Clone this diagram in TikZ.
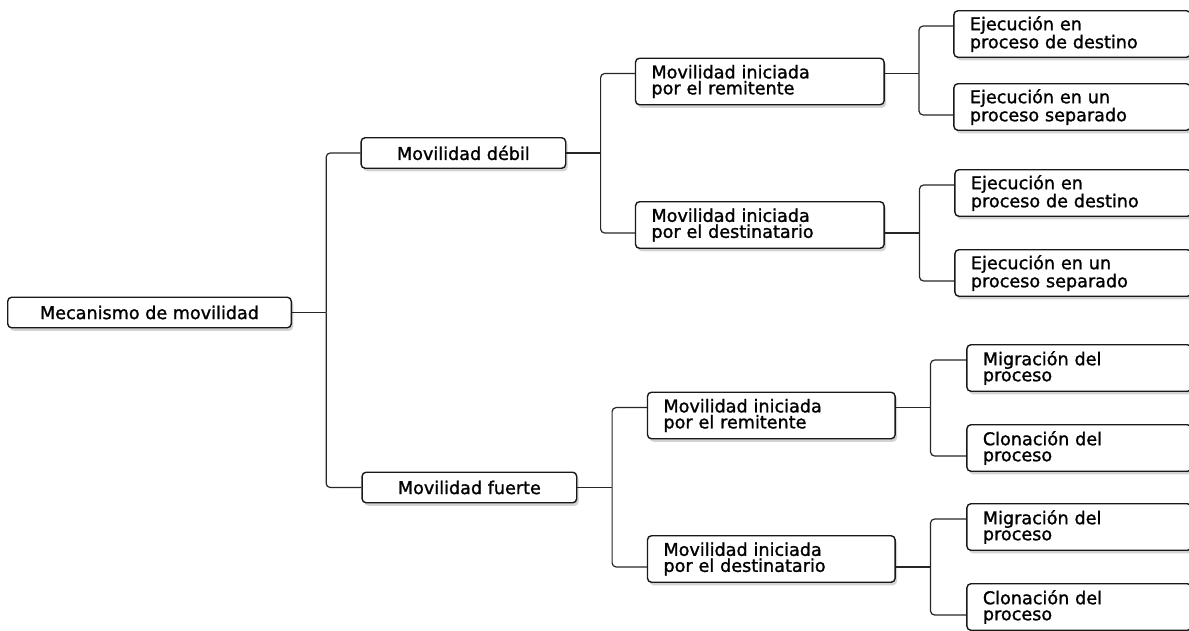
\documentclass[tikz,border=0pt]{standalone}
\usepackage{fontspec}
\setmainfont{DejaVu Sans}
\newfontfamily\mmfam{DejaVu Sans}[BoldFont={DejaVu Sans}, BoldFeatures={FakeBold=1.3}]
\usepackage{tikz}
\usetikzlibrary{positioning,shadows}
\newcommand{\mmfont}{\mmfam\bfseries\fontsize{17.6pt}{16pt}\selectfont}
\tikzset{
  mbox/.style={rectangle, rounded corners=4pt, draw=black!90, line width=1.4pt, fill=white,
               drop shadow={shadow xshift=2pt, shadow yshift=-3pt, opacity=0.35},
               text=black, minimum height=30.5pt, inner xsep=16pt, font=\mmfont, align=center},
  mboxw/.style={mbox, text width=#1, minimum height=46.5pt, align=left},
  mlink/.style={line width=1.2pt, color=black!85},
  mbus/.style={mlink, rounded corners=4pt},
}
\begin{document}
\begin{tikzpicture}
  \useasboundingbox (0,0) rectangle (1189pt,-630pt);
  \node[mbox, minimum width=283.6pt] (root) at (149.5pt,-312.5pt) {Mecanismo de movilidad};

  \node[mbox, minimum width=204.6pt, right=68.4pt of root, yshift=159.5pt] (debil)  {Movilidad débil};
  \node[mbox, minimum width=214.6pt, right=69.4pt of root, yshift=-175pt]  (fuerte) {Movilidad fuerte};

  \node[mboxw=216.6pt, right=68.4pt of debil,  yshift=71.5pt]  (drem) {Movilidad iniciada\\por el remitente};
  \node[mboxw=216.6pt, right=68.4pt of debil,  yshift=-72pt]   (ddes) {Movilidad iniciada\\por el destinatario};
  \node[mboxw=215.6pt, right=69.4pt of fuerte, yshift=72pt]    (frem) {Movilidad iniciada\\por el remitente};
  \node[mboxw=215.6pt, right=69.4pt of fuerte, yshift=-71.5pt] (fdes) {Movilidad iniciada\\por el destinatario};

  \node[mboxw=204.6pt, right=68.4pt of drem, yshift=47.5pt]  (ejdest1) {Ejecución en\\proceso de destino};
  \node[mboxw=204.6pt, right=68.4pt of drem, yshift=-25.5pt] (ejsep1)  {Ejecución en un\\proceso separado};
  \node[mboxw=204.6pt, right=69.4pt of ddes, yshift=32pt]    (ejdest2) {Ejecución en\\proceso de destino};
  \node[mboxw=204.6pt, right=69.4pt of ddes, yshift=-48pt]   (ejsep2)  {Ejecución en un\\proceso separado};
  \node[mboxw=192.6pt, right=70.4pt of frem, yshift=47.5pt]  (migr1)   {Migración del\\proceso};
  \node[mboxw=192.6pt, right=70.4pt of frem, yshift=-32.5pt] (clon1)   {Clonación del\\proceso};
  \node[mboxw=192.6pt, right=70.4pt of fdes, yshift=32pt]    (migr2)   {Migración del\\proceso};
  \node[mboxw=192.6pt, right=70.4pt of fdes, yshift=-48pt]   (clon2)   {Clonación del\\proceso};

  \coordinate[right=34.2pt of root]   (rootj);
  \coordinate[right=34.2pt of debil]  (debilj);
  \coordinate[right=34.7pt of fuerte] (fuertej);
  \coordinate[right=34.2pt of drem.north east, yshift=-16pt] (dremj);
  \coordinate[right=34.7pt of ddes.south east, yshift=16pt]  (ddesj);
  \coordinate[right=34.7pt of frem.north east, yshift=-16pt] (fremj);
  \coordinate[right=34.7pt of fdes.south east, yshift=16pt]  (fdesj);

  \draw[mlink] (root) -- (rootj);
  \draw[mbus] (rootj) |- (debil);
  \draw[mbus] (rootj) |- (fuerte);

  \draw[mlink] (debil) -- (debilj);
  \draw[mbus] (debilj) |- ([yshift=-16pt]drem.north west);
  \draw[mbus] (debilj) |- ([yshift=16pt]ddes.south west);
  \draw[mlink] (fuerte) -- (fuertej);
  \draw[mbus] (fuertej) |- ([yshift=-16pt]frem.north west);
  \draw[mbus] (fuertej) |- ([yshift=16pt]fdes.south west);

  \draw[mlink] ([yshift=-16pt]drem.north east) -- (dremj);
  \draw[mbus] (dremj) |- ([yshift=-16pt]ejdest1.north west);
  \draw[mbus] (dremj) |- ([yshift=16pt]ejsep1.south west);
  \draw[mlink] ([yshift=16pt]ddes.south east) -- (ddesj);
  \draw[mbus] (ddesj) |- ([yshift=-16pt]ejdest2.north west);
  \draw[mbus] (ddesj) |- ([yshift=16pt]ejsep2.south west);
  \draw[mlink] ([yshift=-16pt]frem.north east) -- (fremj);
  \draw[mbus] (fremj) |- ([yshift=-16pt]migr1.north west);
  \draw[mbus] (fremj) |- ([yshift=16pt]clon1.south west);
  \draw[mlink] ([yshift=16pt]fdes.south east) -- (fdesj);
  \draw[mbus] (fdesj) |- ([yshift=-16pt]migr2.north west);
  \draw[mbus] (fdesj) |- ([yshift=16pt]clon2.south west);
\end{tikzpicture}
\end{document}
